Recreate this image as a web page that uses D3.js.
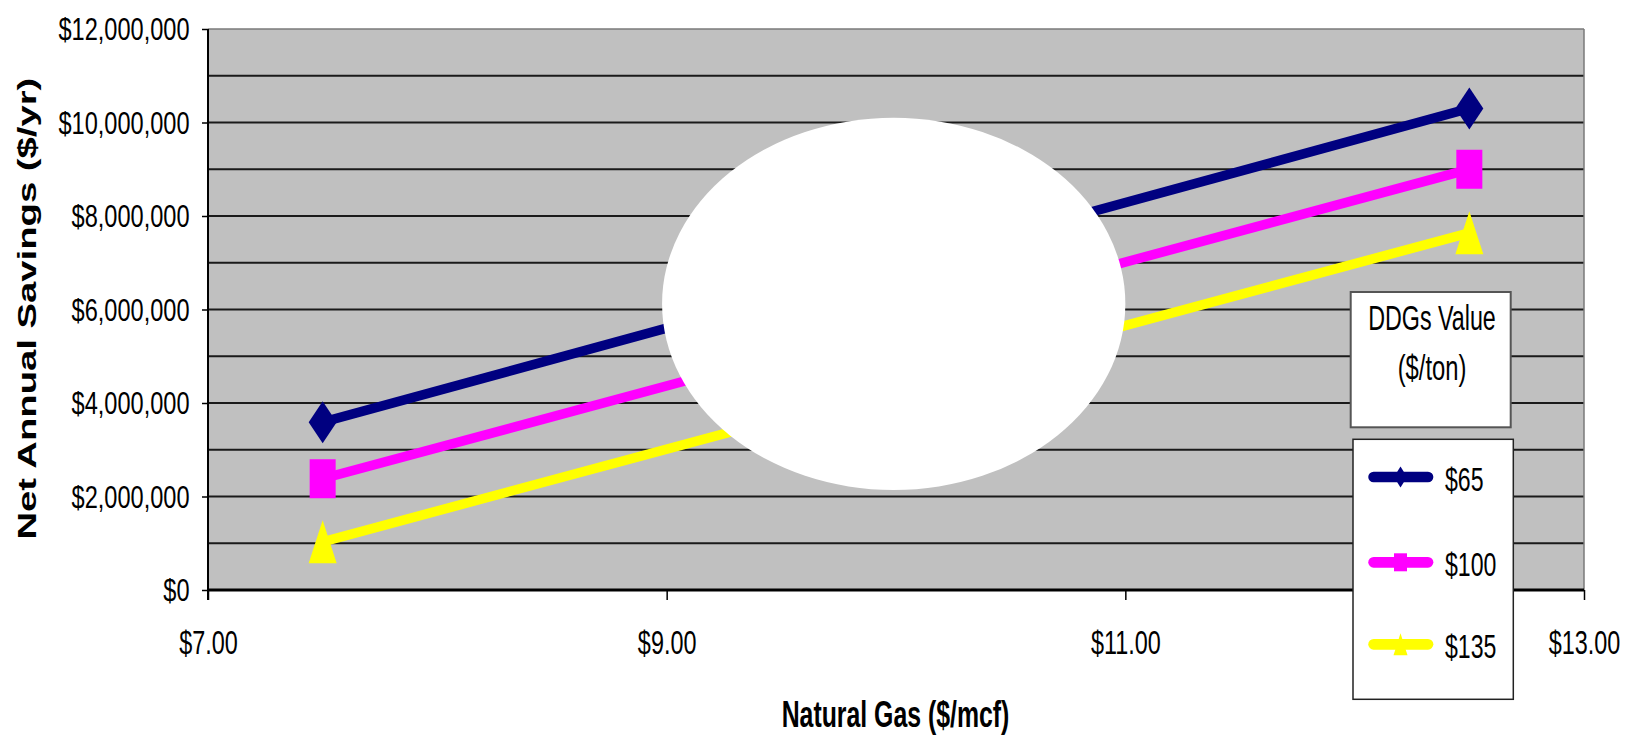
<!DOCTYPE html>
<html>
<head>
<meta charset="utf-8">
<script src="https://cdn.jsdelivr.net/npm/d3@7"></script>
<style>
  html, body { margin: 0; padding: 0; background: #fff; overflow: hidden; }
  svg { display: block; }
</style>
</head>
<body>
<svg id="chart" width="1632" height="737"></svg>
<script>
// Natural gas price ($/mcf) at which each scenario was evaluated
const gasPrices = [7.5, 12.5];

// Net annual savings ($/yr) for each DDGs value ($/ton)
const ddgsLabels = ["$65", "$100", "$135"];
const savings65 = [3590000, 10300000];
const savings100 = [2380000, 9000000];
const savings135 = [1030000, 7640000];

// Axis ticks
const xTickValues = [7, 9, 11, 13];
const yTickValues = [0, 2000000, 4000000, 6000000, 8000000, 10000000, 12000000];

// Legend headings
const legendTitle = ["DDGs Value", "($/ton)"];
const xTitle = "Natural Gas ($/mcf)";
const yTitle = "Net Annual Savings ($/yr)";

const series = [
  { label: ddgsLabels[0], values: savings65, color: "#000080", shape: "diamond" },
  { label: ddgsLabels[1], values: savings100, color: "#ff00ff", shape: "square" },
  { label: ddgsLabels[2], values: savings135, color: "#ffff00", shape: "triangle" }
];

const FONT = "'Liberation Sans', Arial, Helvetica, sans-serif";
const svg = d3.select("#chart");

const x = d3.scaleLinear().domain([7, 13]).range([208, 1584]);
const y = d3.scaleLinear().domain([0, 12000000]).range([590, 29]);

// page + plot area
svg.append("rect").attr("width", 1632).attr("height", 737).attr("fill", "#fff");
svg.append("rect")
  .attr("x", x(7)).attr("y", y(12000000))
  .attr("width", x(13) - x(7)).attr("height", y(0) - y(12000000))
  .attr("fill", "#c0c0c0");

// horizontal gridlines every $1,000,000
svg.append("g").selectAll("line")
  .data(y.ticks(12).filter(d => d > 0 && d < 12000000))
  .join("line")
  .attr("x1", x(7)).attr("x2", x(13))
  .attr("y1", d => y(d)).attr("y2", d => y(d))
  .attr("stroke", "#1a1a1a").attr("stroke-width", 2);

// plot frame: top and right in grey
svg.append("line").attr("x1", x(7)).attr("x2", x(13)).attr("y1", y(12000000)).attr("y2", y(12000000))
  .attr("stroke", "#7a7a7a").attr("stroke-width", 1.5);
svg.append("line").attr("x1", x(13)).attr("x2", x(13)).attr("y1", y(12000000)).attr("y2", y(0))
  .attr("stroke", "#7a7a7a").attr("stroke-width", 1.5);

// marker shapes, sized by width/height
function markerPath(shape, w, h) {
  const p = d3.path();
  if (shape === "diamond") {
    p.moveTo(0, -h / 2); p.lineTo(w / 2, 0); p.lineTo(0, h / 2); p.lineTo(-w / 2, 0); p.closePath();
  } else if (shape === "square") {
    p.rect(-w / 2, -h / 2, w, h);
  } else {
    p.moveTo(0, -h / 2); p.lineTo(w / 2, h / 2); p.lineTo(-w / 2, h / 2); p.closePath();
  }
  return p.toString();
}
const plotMarker = { diamond: [28, 42], square: [26, 39], triangle: [28, 43] };
const legendMarker = { diamond: [13, 21], square: [13, 18], triangle: [14, 22] };

// series lines
const line = d3.line().x((d, i) => x(gasPrices[i])).y(d => y(d));
const gSeries = svg.append("g");
series.forEach(s => {
  gSeries.append("path")
    .attr("d", line(s.values))
    .attr("fill", "none")
    .attr("stroke", s.color)
    .attr("stroke-width", 9.6);
  gSeries.selectAll(null)
    .data(s.values)
    .join("path")
    .attr("transform", (d, i) => `translate(${x(gasPrices[i])},${y(d)})`)
    .attr("d", markerPath(s.shape, ...plotMarker[s.shape]))
    .attr("fill", s.color);
});

// white oval callout over the middle of the plot
svg.append("ellipse")
  .attr("cx", x(9.99)).attr("cy", y(6120000))
  .attr("rx", x(11.0) - x(9.99)).attr("ry", y(2140000) - y(6120000))
  .attr("fill", "#fff");

// Y axis
const yAxis = svg.append("g")
  .attr("transform", `translate(${x(7)},0)`)
  .call(d3.axisLeft(y).tickValues(yTickValues).tickSize(6).tickFormat(d3.format("$,")));
yAxis.select(".domain").remove();
yAxis.selectAll(".tick line").attr("stroke", "#000").attr("stroke-width", 1.5);
yAxis.selectAll("text")
  .attr("x", null).attr("dy", null)
  .attr("fill", "#000")
  .attr("font-family", FONT).attr("font-size", 31.6)
  .attr("text-anchor", "end")
  .attr("transform", "translate(-18.5,10.5) scale(0.746,1)");
svg.append("line").attr("x1", x(7)).attr("x2", x(7)).attr("y1", y(12000000)).attr("y2", y(0) + 10)
  .attr("stroke", "#000").attr("stroke-width", 2);

// X axis
const xAxis = svg.append("g")
  .attr("transform", `translate(0,${y(0)})`)
  .call(d3.axisBottom(x).tickValues(xTickValues).tickSize(10).tickFormat(d3.format("$.2f")));
xAxis.select(".domain").remove();
xAxis.selectAll(".tick line").attr("stroke", "#000").attr("stroke-width", 1.5);
xAxis.selectAll("text")
  .attr("y", null).attr("dy", null)
  .attr("fill", "#000")
  .attr("font-family", FONT).attr("font-size", 33)
  .attr("text-anchor", "middle")
  .attr("transform", "translate(0,64) scale(0.71,1)");
svg.append("line").attr("x1", x(7)).attr("x2", x(13)).attr("y1", y(0)).attr("y2", y(0))
  .attr("stroke", "#000").attr("stroke-width", 3);

// axis titles
svg.append("text")
  .attr("transform", "translate(895.5,727.3) scale(0.666,1)")
  .attr("text-anchor", "middle")
  .attr("font-family", FONT).attr("font-weight", "bold").attr("font-size", 37.3)
  .attr("fill", "#000")
  .text(xTitle);
svg.append("text")
  .attr("transform", "translate(36,308.6) rotate(-90) scale(1.5,1)")
  .attr("text-anchor", "middle")
  .attr("font-family", FONT).attr("font-weight", "bold").attr("font-size", 25.5)
  .attr("fill", "#000")
  .text(yTitle);

// legend title box
const gTitle = svg.append("g");
gTitle.append("rect")
  .attr("x", 1350.7).attr("y", 292).attr("width", 160).attr("height", 135.3)
  .attr("fill", "#fff").attr("stroke", "#555").attr("stroke-width", 2);
gTitle.selectAll("text")
  .data(legendTitle)
  .join("text")
  .attr("transform", (d, i) => `translate(1432,${330 + i * 50}) scale(${i === 0 ? 0.665 : 0.68},1)`)
  .attr("text-anchor", "middle")
  .attr("font-family", FONT).attr("font-size", 35)
  .attr("fill", "#000")
  .text(d => d);

// legend entries box
const gLegend = svg.append("g");
gLegend.append("rect")
  .attr("x", 1353).attr("y", 439.3).attr("width", 160.3).attr("height", 260)
  .attr("fill", "#fff").attr("stroke", "#222").attr("stroke-width", 1.5);
const rowY = [477, 562.3, 644.3];
const item = gLegend.selectAll("g.item")
  .data(series)
  .join("g")
  .attr("class", "item")
  .attr("transform", (d, i) => `translate(0,${rowY[i]})`);
item.append("line")
  .attr("x1", 1373.6).attr("x2", 1428).attr("y1", 0).attr("y2", 0)
  .attr("stroke", d => d.color).attr("stroke-width", 10.7).attr("stroke-linecap", "round");
item.append("path")
  .attr("transform", "translate(1400.5,0)")
  .attr("d", d => markerPath(d.shape, ...legendMarker[d.shape]))
  .attr("fill", d => d.color);
item.append("text")
  .attr("transform", "translate(1445,13.5) scale(0.69,1)")
  .attr("font-family", FONT).attr("font-size", 33.5)
  .attr("fill", "#000")
  .text(d => d.label);
</script>
</body>
</html>
